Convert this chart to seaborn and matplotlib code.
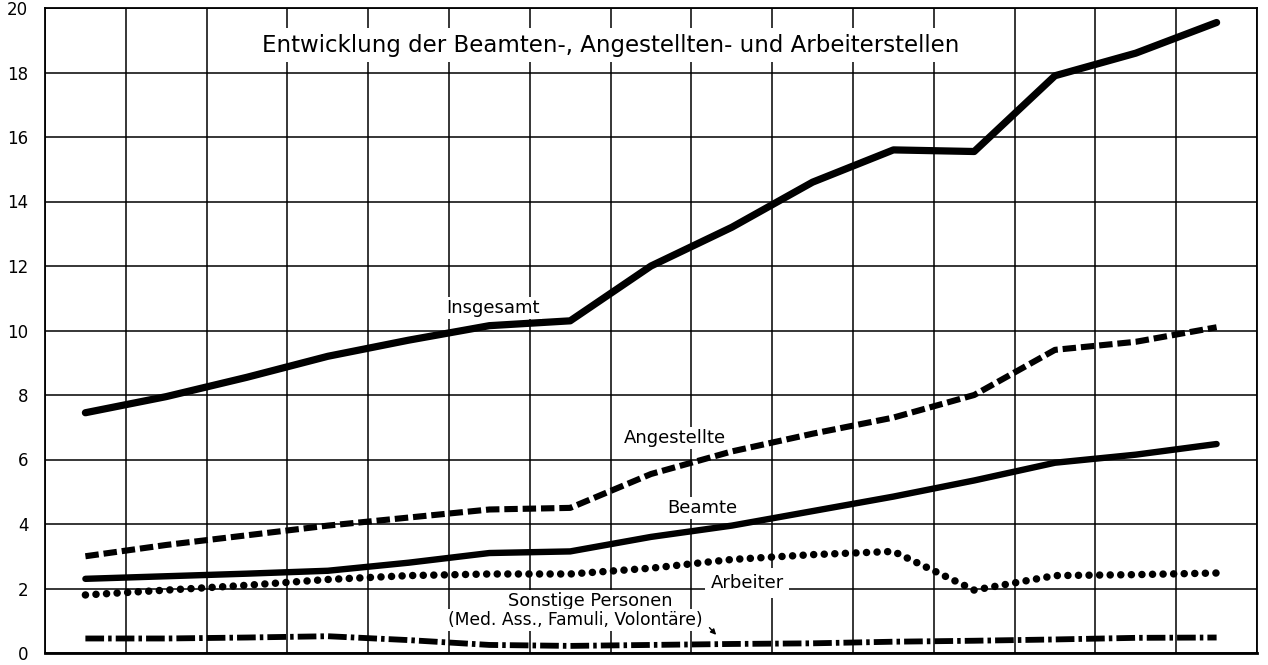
import numpy as np
import pandas as pd
import matplotlib
matplotlib.use("Agg")
import matplotlib.pyplot as plt
import seaborn as sns

# ---- data (thousands of positions) ----
periods = list(range(1, 16))
insgesamt   = [7.45, 7.95, 8.55, 9.2, 9.7, 10.15, 10.3, 12.0, 13.2, 14.6, 15.6, 15.55, 17.9, 18.6, 19.55]
angestellte = [3.0, 3.35, 3.65, 3.95, 4.2, 4.45, 4.5, 5.55, 6.25, 6.8, 7.3, 8.0, 9.4, 9.65, 10.1]
beamte      = [2.3, 2.38, 2.46, 2.55, 2.8, 3.1, 3.15, 3.6, 3.95, 4.4, 4.85, 5.35, 5.9, 6.15, 6.48]
arbeiter    = [1.8, 1.95, 2.1, 2.28, 2.4, 2.45, 2.45, 2.63, 2.9, 3.05, 3.15, 1.95, 2.4, 2.43, 2.48]
sonstige    = [0.45, 0.45, 0.48, 0.52, 0.4, 0.25, 0.22, 0.25, 0.28, 0.3, 0.35, 0.38, 0.42, 0.47, 0.48]
yticks = [0, 2, 4, 6, 8, 10, 12, 14, 16, 18, 20]

title = "Entwicklung der Beamten-, Angestellten- und Arbeiterstellen"

sns.set_style("white")
plt.rcParams['font.family'] = ['DejaVu Sans']
plt.rcParams['text.color'] = 'black'
plt.rcParams['ytick.color'] = 'black'

fig = plt.figure(figsize=(12.68, 6.65), dpi=100)
ax = fig.add_axes([45/1268, 12/665, (1257-45)/1268, (653-8)/665])

x = np.array(periods) - 0.5
df = pd.DataFrame({"x": x, "Insgesamt": insgesamt, "Angestellte": angestellte,
                   "Beamte": beamte, "Arbeiter": arbeiter, "Sonstige": sonstige})

sns.lineplot(data=df, x="x", y="Insgesamt", ax=ax, color="black", linewidth=5.2,
             solid_capstyle="round", solid_joinstyle="round", zorder=5)
sns.lineplot(data=df, x="x", y="Beamte", ax=ax, color="black", linewidth=4.6,
             solid_capstyle="round", solid_joinstyle="round", zorder=5)
l_ang = sns.lineplot(data=df, x="x", y="Angestellte", ax=ax, color="black", linewidth=4.4, zorder=5).lines[-1]
l_ang.set_linestyle((0, (2.2, 0.8)))
l_ang.set_dash_capstyle("butt")
l_arb = sns.lineplot(data=df, x="x", y="Arbeiter", ax=ax, color="black", linewidth=5.4, zorder=5).lines[-1]
l_arb.set_linestyle((0, (0.01, 1.4)))
l_arb.set_dash_capstyle("round")
l_son = sns.lineplot(data=df, x="x", y="Sonstige", ax=ax, color="black", linewidth=4.2, zorder=5).lines[-1]
l_son.set_linestyle((0, (3.2, 0.7, 0.6, 0.7)))
l_son.set_dash_capstyle("butt")

ax.set_xlim(0, 15)
ax.set_ylim(0, 20)
ax.set_xticks(np.arange(0, 16))
ax.set_xticklabels([])
ax.set_yticks(yticks)
ax.set_yticklabels([str(v) for v in yticks], fontsize=12)
ax.tick_params(axis="both", length=0)
ax.tick_params(axis="y", pad=12, labelcolor="black")
ax.set_xlabel("")
ax.set_ylabel("")
ax.grid(True, color="black", linewidth=1.1)
ax.set_axisbelow(True)
for s in ax.spines.values():
    s.set_color("black")
    s.set_linewidth(1.3)
ax.spines["bottom"].set_linewidth(2.0)

box = dict(facecolor="white", edgecolor="none", pad=1.5)
ax.text(7.0, 18.85, title, ha="center", va="center", fontsize=16.5, color="black",
        bbox=dict(facecolor="white", edgecolor="none", pad=4), zorder=6)
ax.text(5.55, 10.7, "Insgesamt", ha="center", va="center", fontsize=13, color="black", bbox=box, zorder=6)
ax.text(7.8, 6.67, "Angestellte", ha="center", va="center", fontsize=13, color="black", bbox=box, zorder=6)
ax.text(8.13, 4.5, "Beamte", ha="center", va="center", fontsize=13, color="black", bbox=box, zorder=6)
ax.text(8.69, 2.17, "Arbeiter", ha="center", va="center", fontsize=13, color="black",
        bbox=dict(facecolor="white", edgecolor="none", pad=4), zorder=6)
ax.text(6.75, 1.6, "Sonstige Personen", ha="center", va="center", fontsize=12.8, color="black", bbox=box, zorder=6)
ax.text(6.56, 1.03, "(Med. Ass., Famuli, Volontäre)", ha="center", va="center", fontsize=12.3, color="black", bbox=box, zorder=6)
ax.annotate("", xy=(8.33, 0.5), xytext=(8.2, 0.85),
            arrowprops=dict(arrowstyle="-|>", color="black", lw=1.0, mutation_scale=8), zorder=7)

fig.savefig("out.png", dpi=100)
